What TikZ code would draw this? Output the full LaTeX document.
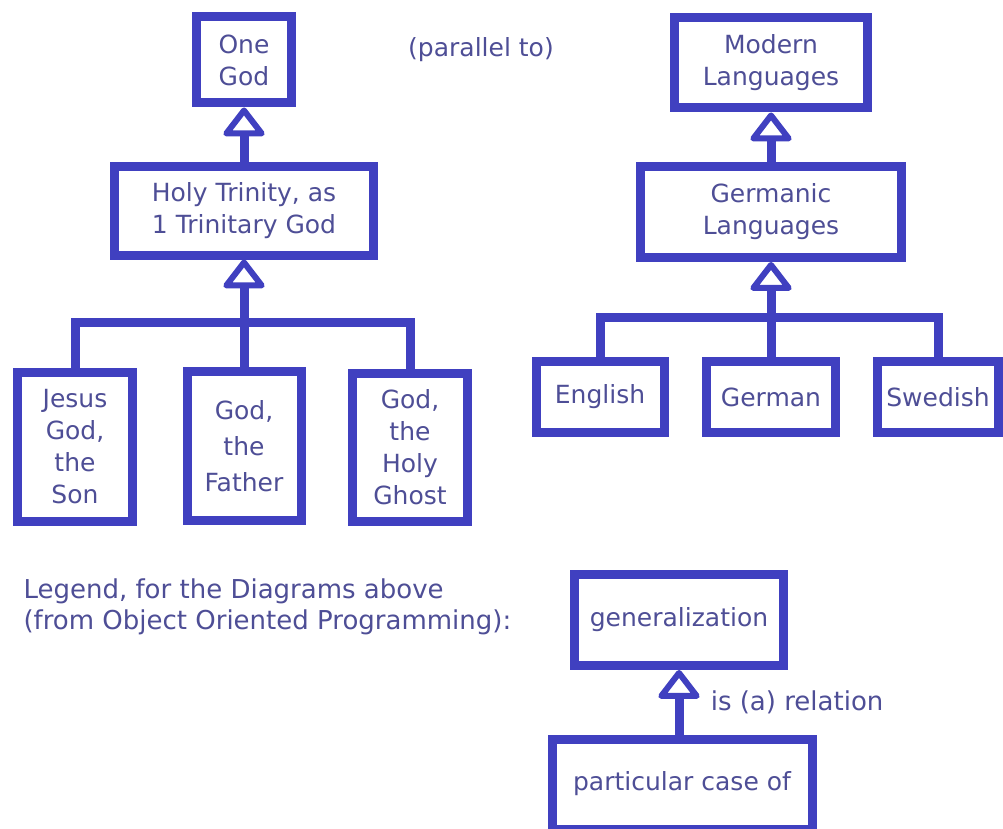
\documentclass[tikz,border=0pt]{standalone}
\usepackage{fontspec}
\setmainfont{DejaVu Sans}
\usetikzlibrary{arrows.meta,positioning}
\definecolor{boxblue}{RGB}{64,64,192}
\definecolor{textblue}{RGB}{78,78,150}

\begin{document}
\begin{tikzpicture}[x=1pt, y=-1pt,
  every node/.style={align=center, text=textblue, font=\fontsize{25}{32}\selectfont},
  box/.style={draw=boxblue, line width=9pt, inner sep=0pt, fill=white},
  tree/.style={draw=boxblue, line width=9pt},
  isa/.style={draw=boxblue, line width=9pt, -{Triangle[open, round, length=31pt, width=46pt, line width=6pt 0]}},
  legendtext/.style={font=\fontsize{26}{31}\selectfont}]

\useasboundingbox[fill=white] (0,0) rectangle (1003,829);

% Holy Trinity tree
\node (god) [box, minimum width=95pt, minimum height=86pt] at (244,60) {One\\God};
\node (trinity) [box, minimum width=259pt, minimum height=88pt] at (244,211) {Holy Trinity, as\\1 Trinitary God};
\node (son) [box, minimum width=115pt, minimum height=149pt] at (75,447) {Jesus\\God,\\the\\Son};
\node (father) [box, minimum width=114pt, minimum height=149pt] at (244,446) {God,\\[4pt]the\\[4pt]Father};
\node (ghost) [box, minimum width=115pt, minimum height=148pt] at (410,447) {God,\\the\\Holy\\Ghost};

% Languages tree
\node (modern) [box, minimum width=193pt, minimum height=90pt] at (771,63) {Modern\\Languages};
\node (germanic) [box, minimum width=261pt, minimum height=91pt] at (771,212) {Germanic\\Languages};
\node (english) [box, minimum width=128pt, minimum height=71pt] at (600,397) {English};
\node (german) [box, minimum width=129pt, minimum height=71pt] at (771,397) {German};
\node (swedish) [box, minimum width=121pt, minimum height=71pt] at (938,397) {Swedish};

\node (parallel) at (481,50) {(parallel to)};

% Bars and generalization arrows
\coordinate (tbar) at (244,322);
\coordinate (gbar) at (771,317);
\draw[tree] (son.north) |- (tbar) -| (ghost.north);
\draw[tree] (english.north) |- (gbar) -| (swedish.north);
\draw[isa] (father.north) -- (trinity.south);
\draw[isa] (trinity.north) -- (god.south);
\draw[isa] (german.north) -- (germanic.south);
\draw[isa] (germanic.north) -- (modern.south);

% Legend
\node (legend) [legendtext, anchor=west, align=left] at (20,607) {Legend, for the Diagrams above\\(from Object Oriented Programming):};
\node (gen) [box, minimum width=209pt, minimum height=91pt] at (679,620) {generalization};
\node (part) [box, minimum width=260pt, minimum height=90pt] at (682,784) {particular case of};
\draw[isa] (gen.south |- part.north) -- (gen.south) node[legendtext, right, xshift=24pt, midway] {is (a) relation};

\end{tikzpicture}
\end{document}
